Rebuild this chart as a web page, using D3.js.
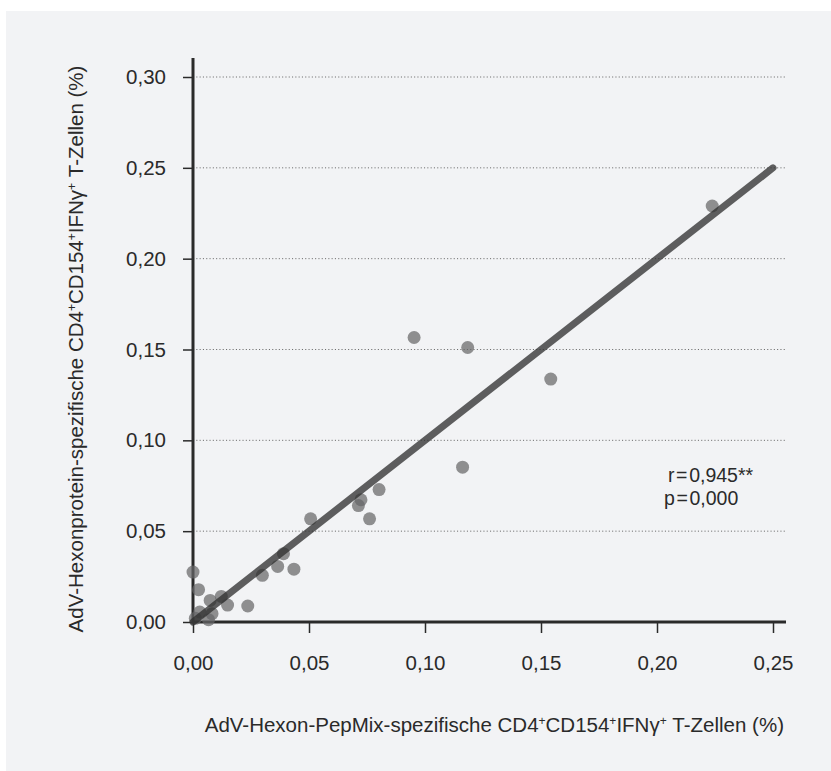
<!DOCTYPE html>
<html>
<head>
<meta charset="utf-8">
<script src="https://cdn.jsdelivr.net/npm/d3@7/dist/d3.min.js"></script>
<style>
  html, body { margin: 0; padding: 0; background: #ffffff; }
  svg { display: block; font-family: "Liberation Sans", Arial, sans-serif; }
</style>
</head>
<body>
<svg id="chart" width="831" height="771"></svg>
<script>
// ---- data ----
const pepMixValues = [0.000, 0.0024, 0.0029, 0.0010, 0.0074, 0.0067, 0.0082, 0.0122, 0.0149, 0.0236,
                      0.0299, 0.0365, 0.0390, 0.0435, 0.0507, 0.0713, 0.0724, 0.0761, 0.0802,
                      0.0953, 0.1184, 0.1162, 0.1542, 0.2238];
const proteinValues = [0.0275, 0.0178, 0.0055, 0.0020, 0.0119, 0.0013, 0.0046, 0.0141, 0.0093, 0.0088,
                       0.0257, 0.0306, 0.0376, 0.0291, 0.0568, 0.0641, 0.0673, 0.0568, 0.0729,
                       0.1566, 0.1511, 0.0852, 0.1337, 0.2290];
const fitX = [0, 0.25];
const fitY = [0, 0.25];
const xTicks = [0, 0.05, 0.10, 0.15, 0.20, 0.25];
const yTicks = [0, 0.05, 0.10, 0.15, 0.20, 0.25, 0.30];
const annotation = ["r\u200A=\u200A0,945**", "p\u200A=\u200A0,000"];

// ---- setup ----
const svg = d3.select("#chart");
const W = 831, H = 771;
const FS = "20.5px";
const locale = d3.formatLocale({decimal: ",", thousands: ".", grouping: [3], currency: ["", "€"]});
const fmt = locale.format(".2f");

svg.append("rect").attr("x", 6).attr("y", 11).attr("width", W - 6).attr("height", H - 11).attr("fill", "#f2f3f5");

const x = d3.scaleLinear().domain([0, 0.25]).range([193, 773]);
const y = d3.scaleLinear().domain([0, 0.30]).range([622, 77]);

// gridlines
svg.append("g").selectAll("line").data(yTicks.filter(d => d > 0)).join("line")
  .attr("x1", x(0)).attr("x2", 786)
  .attr("y1", d => y(d)).attr("y2", d => y(d))
  .attr("stroke", "#6e6e6e").attr("stroke-width", 1)
  .attr("stroke-dasharray", "1.1,2.2");

// x axis
const xAxis = svg.append("g").attr("transform", `translate(0,${y(0)})`)
  .call(d3.axisBottom(x).tickValues(xTicks).tickFormat(fmt).tickSize(11).tickPadding(22));
xAxis.select(".domain").remove();
xAxis.selectAll(".tick line").attr("stroke", "#2a2a2a").attr("stroke-width", 1.5);
xAxis.selectAll(".tick text").attr("fill", "#2a2a2a").style("font-size", FS).style("font-family", "Liberation Sans, Arial, sans-serif");
xAxis.append("line").attr("x1", x(0)).attr("x2", 786).attr("y1", 0).attr("y2", 0)
  .attr("stroke", "#2a2a2a").attr("stroke-width", 3);

// y axis
const yAxis = svg.append("g").attr("transform", `translate(${x(0)},0)`)
  .call(d3.axisLeft(y).tickValues(yTicks).tickFormat(fmt).tickSize(10).tickPadding(17));
yAxis.select(".domain").remove();
yAxis.selectAll(".tick line").attr("stroke", "#2a2a2a").attr("stroke-width", 1.5);
yAxis.selectAll(".tick text").attr("fill", "#2a2a2a").style("font-size", FS).style("font-family", "Liberation Sans, Arial, sans-serif");
yAxis.append("line").attr("x1", 0).attr("x2", 0).attr("y1", y(0) + 1.5).attr("y2", 58)
  .attr("stroke", "#2a2a2a").attr("stroke-width", 3);

// points
const pts = pepMixValues.map((v, i) => ({x: v, y: proteinValues[i]}));
svg.append("g").selectAll("circle").data(pts).join("circle")
  .attr("cx", d => x(d.x)).attr("cy", d => y(d.y)).attr("r", 6.5)
  .attr("fill", "#666668").attr("fill-opacity", 0.72);

// regression line
svg.append("path")
  .datum(fitX.map((v, i) => [v, fitY[i]]))
  .attr("d", d3.line().x(d => x(d[0])).y(d => y(d[1])))
  .attr("fill", "none").attr("stroke", "#2e2e2e").attr("stroke-opacity", 0.76)
  .attr("stroke-width", 7).attr("stroke-linecap", "round");

// annotation
svg.append("text").attr("x", 668).attr("y", 482).attr("fill", "#2a2a2a").style("font-size", "19.5px").text(annotation[0]);
svg.append("text").attr("x", 664).attr("y", 505).attr("fill", "#2a2a2a").style("font-size", "19.5px").text(annotation[1]);

// axis titles with superscripts
function addTitle(sel, parts) {
  parts.forEach(p => {
    const t = sel.append("tspan").text(p.t);
    if (p.sup) t.attr("baseline-shift", "super").style("font-size", "12px");
  });
}
const xt = svg.append("text").attr("x", 784).attr("y", 732).attr("text-anchor", "end")
  .attr("fill", "#2a2a2a").style("font-size", FS);
addTitle(xt, [{t: "AdV-Hexon-PepMix-spezifische CD4"}, {t: "+", sup: true}, {t: "CD154"}, {t: "+", sup: true},
              {t: "IFNγ"}, {t: "+", sup: true}, {t: " T-Zellen (%)"}]);

const yt = svg.append("text").attr("transform", "translate(83,349) rotate(-90)").attr("text-anchor", "middle")
  .attr("fill", "#2a2a2a").style("font-size", FS);
addTitle(yt, [{t: "AdV-Hexonprotein-spezifische CD4"}, {t: "+", sup: true}, {t: "CD154"}, {t: "+", sup: true},
              {t: "IFNγ"}, {t: "+", sup: true}, {t: "  T-Zellen (%)"}]);
</script>
</body>
</html>
